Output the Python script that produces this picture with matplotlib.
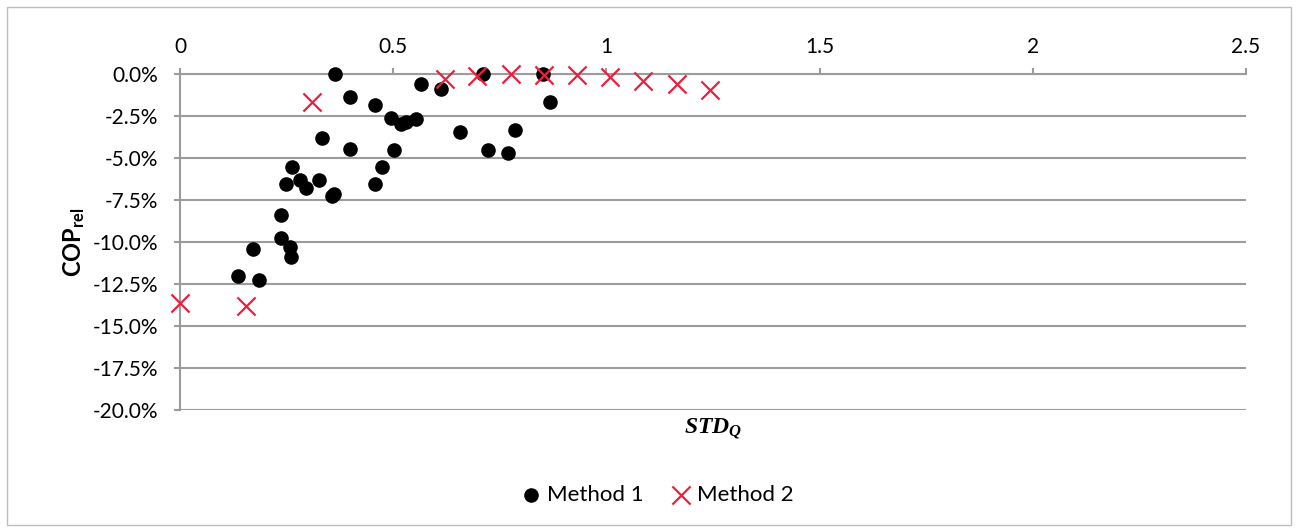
import matplotlib
matplotlib.use("Agg")
from matplotlib import pyplot as plt
from matplotlib.patches import Rectangle
from matplotlib.ticker import FuncFormatter
import numpy as np

# Method 1 (black dots): STD_Q vs relative COP in %
m1_x = [0.363, 0.399, 0.457, 0.494, 0.519, 0.530, 0.554, 0.565, 0.611, 0.656,
        0.332, 0.399, 0.503, 0.473, 0.457, 0.263, 0.248, 0.281, 0.296, 0.326,
        0.357, 0.362, 0.236, 0.238, 0.259, 0.260, 0.171, 0.135, 0.185,
        0.710, 0.723, 0.769, 0.786, 0.852, 0.867]
m1_y = [0.0, -1.36, -1.85, -2.61, -2.99, -2.85, -2.69, -0.58, -0.89, -3.45,
        -3.79, -4.45, -4.55, -5.54, -6.54, -5.54, -6.52, -6.30, -6.78, -6.30,
        -7.28, -7.14, -8.42, -9.75, -10.29, -10.89, -10.43, -12.02, -12.26,
        0.0, -4.52, -4.69, -3.33, 0.0, -1.67]

# Method 2 (red crosses)
m2_x = [0.0, 0.155, 0.310, 0.621, 0.697, 0.776, 0.854, 0.931, 1.008, 1.087, 1.165, 1.242]
m2_y = [-13.66, -13.78, -1.69, -0.30, -0.12, 0.0, -0.04, -0.04, -0.16, -0.40, -0.62, -0.96]

x_ticks = [0, 0.5, 1, 1.5, 2, 2.5]
y_ticks = [0, -2.5, -5, -7.5, -10, -12.5, -15, -17.5, -20]

plt.rcParams['font.family'] = ['Lato', 'DejaVu Sans']
plt.rcParams['mathtext.fontset'] = 'custom'
plt.rcParams['mathtext.it'] = 'Liberation Serif:italic:bold'
plt.rcParams['mathtext.bf'] = 'Lato:bold'
plt.rcParams['mathtext.rm'] = 'Lato'

grey = '#9c9c9c'
red = '#e8213f'

fig = plt.figure(figsize=(12.98, 5.32), dpi=100)
fig.patches.append(Rectangle((7 / 1298, 7 / 532), 1284 / 1298, 518 / 532,
                             transform=fig.transFigure, fill=False,
                             edgecolor='#bdbdbd', linewidth=1))
ax = fig.add_axes([180 / 1298, 1 - 410 / 532, 1066 / 1298, 336 / 532])

ax.scatter(m1_x, m1_y, s=90, color='black', marker='o', zorder=3,
           clip_on=False, label='Method 1')
ax.scatter(m2_x, m2_y, s=170, color=red, marker='x', linewidths=1.6, zorder=4,
           clip_on=False, label='Method 2')

ax.set_xlim(0, 2.5)
ax.set_ylim(-20, 0)
ax.set_xticks(x_ticks)
ax.set_yticks(y_ticks)
ax.xaxis.set_major_formatter(FuncFormatter(lambda v, p: '%g' % v))
ax.yaxis.set_major_formatter(FuncFormatter(lambda v, p: '%.1f%%' % v))
ax.xaxis.tick_top()
ax.tick_params(axis='x', direction='out', length=4.5, width=1.5, color=grey,
               labelsize=15, pad=8)
ax.tick_params(axis='y', direction='out', length=4.5, width=1.5, color=grey,
               labelsize=15, pad=11)
ax.grid(axis='y', color=grey, linewidth=1.5)
ax.set_axisbelow(True)
for s in ['right', 'bottom']:
    ax.spines[s].set_visible(False)
for s in ['left', 'top']:
    ax.spines[s].set_color(grey)
    ax.spines[s].set_linewidth(1.5)

ax.set_xlabel(r'$STD_Q$', fontsize=17, labelpad=5)
ax.xaxis.set_label_position('bottom')
ax.set_ylabel(r'$\mathbf{COP}_{\mathbf{rel}}$', fontsize=17, labelpad=4)

fig.legend(loc='center', bbox_to_anchor=(0.506, 1 - 495 / 532), ncol=2, frameon=False,
           fontsize=16, handlelength=1.0, handletextpad=0.2, columnspacing=1.2)

fig.savefig('out.png', dpi=100)
